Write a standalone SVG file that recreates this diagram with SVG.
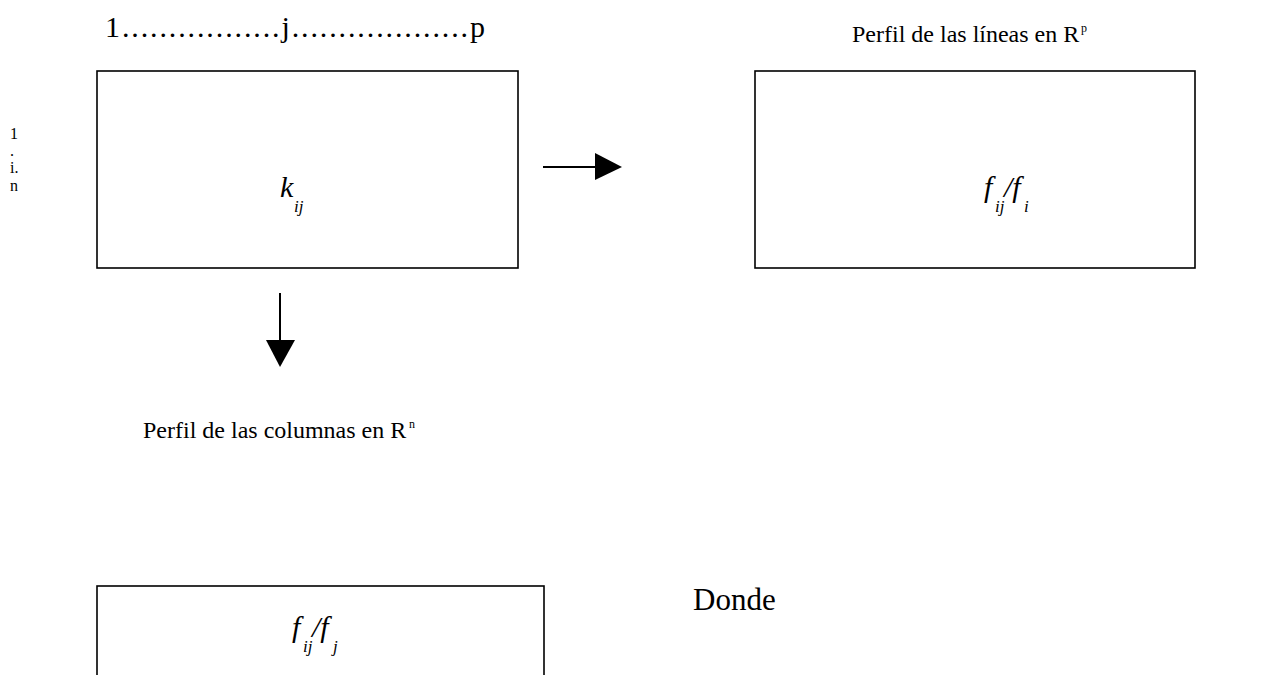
<svg xmlns="http://www.w3.org/2000/svg" width="1285" height="675" viewBox="0 0 1285 675">
<style>
text{font-family:"Liberation Serif","Times New Roman",serif;fill:#000}
.box{fill:#fff;stroke:#000;stroke-width:1.6}
.title{font-size:30px}
.lbl{font-size:24px}
.side{font-size:16px}
.it{font-style:italic;font-size:30px}
.sub{font-size:17px;font-style:italic}
.sup{font-size:12px}
.conn line{stroke:#000;stroke-width:2}
.conn polygon{fill:#000}
</style>
<rect width="1285" height="675" fill="#fff"/>
<text class="title" x="105" y="37" textLength="380" lengthAdjust="spacing">1.................j...................p</text>
<text class="lbl" x="852" y="42">Perfil de las líneas en R</text>
<text class="sup" x="1081" y="32">p</text>
<text class="side" x="10" y="139">1</text>
<text class="side" x="10" y="156">.</text>
<text class="side" x="10" y="173">i.</text>
<text class="side" x="10" y="191">n</text>
<g id="node-k">
<rect class="box" x="97" y="71" width="421" height="197"/>
<text class="it" x="280" y="197">k</text>
<text class="sub" x="294" y="212">ij</text>
</g>
<g id="node-lines">
<rect class="box" x="755" y="71" width="440" height="197"/>
<text class="it" x="984" y="197">f</text>
<text class="sub" x="995" y="212">ij</text>
<text class="it" x="1004" y="197">/f</text>
<text class="sub" x="1024" y="212">i</text>
</g>
<g id="node-cols">
<rect class="box" x="97" y="586" width="447" height="100"/>
<text class="it" x="292" y="637">f</text>
<text class="sub" x="303" y="652">ij</text>
<text class="it" x="312" y="637">/f</text>
<text class="sub" x="333" y="652">j</text>
</g>
<text class="lbl" x="143" y="438">Perfil de las columnas en R</text>
<text class="sup" x="409" y="428">n</text>
<text x="693" y="610" font-size="31">Donde</text>
<g class="conn" id="connectors">
<line x1="543" y1="167" x2="597" y2="167"/>
<polygon points="595,153 622,167 595,180"/>
<line x1="280" y1="293" x2="280" y2="342"/>
<polygon points="266,340 295,340 280,367"/>
</g>
</svg>
